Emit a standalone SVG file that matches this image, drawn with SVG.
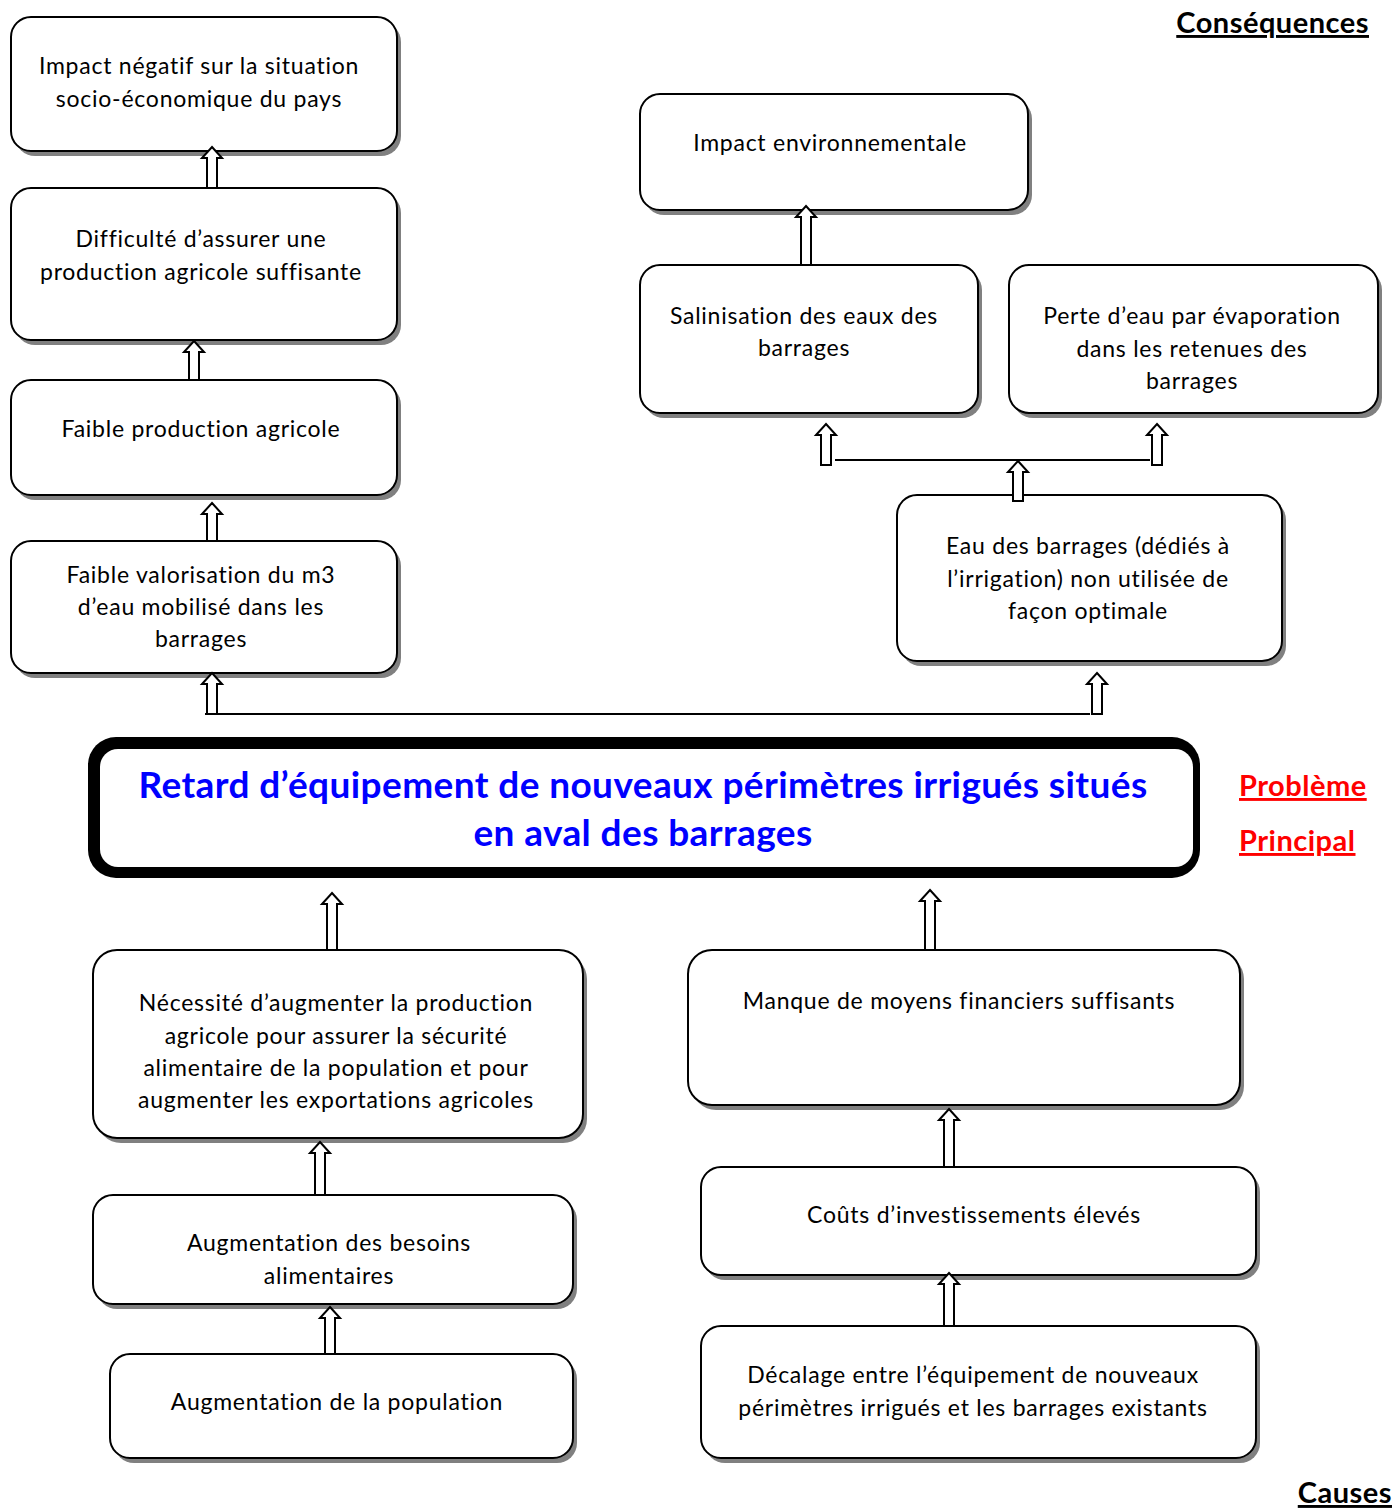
<svg xmlns="http://www.w3.org/2000/svg" width="1396" height="1508" viewBox="0 0 1396 1508">
<style>
.sh{fill:#808080;stroke:none}
.bx{fill:#fff;stroke:#000;stroke-width:2}
.t{font-family:Lato,"Open Sans","Liberation Sans",sans-serif;font-size:23px;letter-spacing:0.75px;fill:#000;text-anchor:middle}
.ar{fill:#fff;stroke:#000;stroke-width:2;stroke-linejoin:miter}
.ln{stroke:#000;stroke-width:2;fill:none}
.lab{font-family:Lato,"Open Sans","Liberation Sans",sans-serif;font-weight:bold;font-size:29px;letter-spacing:0.5px;text-decoration:underline}
.ttl{font-family:Lato,"Open Sans","Liberation Sans",sans-serif;font-weight:bold;font-size:37px;letter-spacing:0.4px;fill:#0000ff;text-anchor:middle}
</style>
<rect width="1396" height="1508" fill="#fff"/>

<g id="n1">
<rect class="sh" x="15" y="22" width="386" height="134" rx="20"/>
<rect class="bx" x="11" y="17" width="386" height="134" rx="20"/>
<text class="t" x="199" y="74">Impact négatif sur la situation</text>
<text class="t" x="199" y="107">socio-économique du pays</text>
</g>
<g id="n2">
<rect class="sh" x="15" y="193" width="386" height="152" rx="20"/>
<rect class="bx" x="11" y="188" width="386" height="152" rx="20"/>
<text class="t" x="201" y="247">Difficulté d’assurer une</text>
<text class="t" x="201" y="280">production agricole suffisante</text>
</g>
<g id="n3">
<rect class="sh" x="15" y="385" width="386" height="115" rx="20"/>
<rect class="bx" x="11" y="380" width="386" height="115" rx="20"/>
<text class="t" x="201" y="437">Faible production agricole</text>
</g>
<g id="n4">
<rect class="sh" x="15" y="546" width="386" height="132" rx="20"/>
<rect class="bx" x="11" y="541" width="386" height="132" rx="20"/>
<text class="t" x="201" y="583">Faible valorisation du m3</text>
<text class="t" x="201" y="615">d’eau mobilisé dans les</text>
<text class="t" x="201" y="647">barrages</text>
</g>
<g id="n5">
<rect class="sh" x="644" y="99" width="388" height="116" rx="20"/>
<rect class="bx" x="640" y="94" width="388" height="116" rx="20"/>
<text class="t" x="830" y="151">Impact environnementale</text>
</g>
<g id="n6">
<rect class="sh" x="644" y="270" width="338" height="148" rx="20"/>
<rect class="bx" x="640" y="265" width="338" height="148" rx="20"/>
<text class="t" x="804" y="324">Salinisation des eaux des</text>
<text class="t" x="804" y="356">barrages</text>
</g>
<g id="n7">
<rect class="sh" x="1013" y="270" width="369" height="148" rx="20"/>
<rect class="bx" x="1009" y="265" width="369" height="148" rx="20"/>
<text class="t" x="1192" y="324">Perte d’eau par évaporation</text>
<text class="t" x="1192" y="357">dans les retenues des</text>
<text class="t" x="1192" y="389">barrages</text>
</g>
<g id="n8">
<rect class="sh" x="901" y="500" width="385" height="166" rx="20"/>
<rect class="bx" x="897" y="495" width="385" height="166" rx="20"/>
<text class="t" x="1088" y="554">Eau des barrages (dédiés à</text>
<text class="t" x="1088" y="587">l’irrigation) non utilisée de</text>
<text class="t" x="1088" y="619">façon optimale</text>
</g>
<g id="main">
<rect x="88" y="737" width="1112" height="141" rx="28" fill="#000"/>
<rect x="100" y="749" width="1093" height="118" rx="18" fill="#fff"/>
<text class="ttl" x="643" y="798">Retard d’équipement de nouveaux périmètres irrigués situés</text>
<text class="ttl" x="643" y="846">en aval des barrages</text>
</g>
<g id="n9">
<rect class="sh" x="97" y="955" width="490" height="188" rx="24"/>
<rect class="bx" x="93" y="950" width="490" height="188" rx="24"/>
<text class="t" x="336" y="1011">Nécessité d’augmenter la production</text>
<text class="t" x="336" y="1044">agricole pour assurer la sécurité</text>
<text class="t" x="336" y="1076">alimentaire de la population et pour</text>
<text class="t" x="336" y="1108">augmenter les exportations agricoles</text>
</g>
<g id="n10">
<rect class="sh" x="692" y="955" width="552" height="155" rx="24"/>
<rect class="bx" x="688" y="950" width="552" height="155" rx="24"/>
<text class="t" x="959" y="1009">Manque de moyens financiers suffisants</text>
</g>
<g id="n11">
<rect class="sh" x="97" y="1200" width="480" height="109" rx="20"/>
<rect class="bx" x="93" y="1195" width="480" height="109" rx="20"/>
<text class="t" x="329" y="1251">Augmentation des besoins</text>
<text class="t" x="329" y="1284">alimentaires</text>
</g>
<g id="n12">
<rect class="sh" x="705" y="1172" width="555" height="108" rx="20"/>
<rect class="bx" x="701" y="1167" width="555" height="108" rx="20"/>
<text class="t" x="974" y="1223">Coûts d’investissements élevés</text>
</g>
<g id="n13">
<rect class="sh" x="114" y="1359" width="463" height="104" rx="20"/>
<rect class="bx" x="110" y="1354" width="463" height="104" rx="20"/>
<text class="t" x="337" y="1410">Augmentation de la population</text>
</g>
<g id="n14">
<rect class="sh" x="705" y="1331" width="555" height="132" rx="20"/>
<rect class="bx" x="701" y="1326" width="555" height="132" rx="20"/>
<text class="t" x="973" y="1383">Décalage entre l’équipement de nouveaux</text>
<text class="t" x="973" y="1416">périmètres irrigués et les barrages existants</text>
</g>

<g id="connectors">
<line class="ln" x1="205" y1="714" x2="1090" y2="714"/>
<line class="ln" x1="835" y1="460" x2="1150" y2="460"/>
<path class="ar" d="M212,147 L222,158 L217,158 L217,188 L207,188 L207,158 L202,158 Z"/>
<path class="ar" d="M194,341 L204,352 L199,352 L199,380 L189,380 L189,352 L184,352 Z"/>
<path class="ar" d="M212,503 L222,514 L217,514 L217,541 L207,541 L207,514 L202,514 Z"/>
<path class="ar" d="M212,673 L222,684 L217,684 L217,714 L207,714 L207,684 L202,684 Z"/>
<path class="ar" d="M1097,673 L1107,684 L1102,684 L1102,714 L1092,714 L1092,684 L1087,684 Z"/>
<path class="ar" d="M806,206 L816,217 L811,217 L811,265 L801,265 L801,217 L796,217 Z"/>
<path class="ar" d="M826,424 L836,435 L831,435 L831,465 L821,465 L821,435 L816,435 Z"/>
<path class="ar" d="M1157,424 L1167,435 L1162,435 L1162,465 L1152,465 L1152,435 L1147,435 Z"/>
<path class="ar" d="M1018,461 L1028,472 L1023,472 L1023,501 L1013,501 L1013,472 L1008,472 Z"/>
<path class="ar" d="M332,893 L342,904 L337,904 L337,950 L327,950 L327,904 L322,904 Z"/>
<path class="ar" d="M930,890 L940,901 L935,901 L935,950 L925,950 L925,901 L920,901 Z"/>
<path class="ar" d="M320,1142 L330,1153 L325,1153 L325,1195 L315,1195 L315,1153 L310,1153 Z"/>
<path class="ar" d="M330,1307 L340,1318 L335,1318 L335,1354 L325,1354 L325,1318 L320,1318 Z"/>
<path class="ar" d="M949,1109 L959,1120 L954,1120 L954,1167 L944,1167 L944,1120 L939,1120 Z"/>
<path class="ar" d="M949,1273 L959,1284 L954,1284 L954,1326 L944,1326 L944,1284 L939,1284 Z"/>
</g>

<g id="labels">
<text class="lab" x="1369" y="33" text-anchor="end" fill="#000">Conséquences</text>
<text class="lab" x="1239" y="796" fill="#ff0000">Problème</text>
<text class="lab" x="1239" y="851" fill="#ff0000">Principal</text>
<text class="lab" x="1392" y="1503" text-anchor="end" fill="#000">Causes</text>
</g>
</svg>
